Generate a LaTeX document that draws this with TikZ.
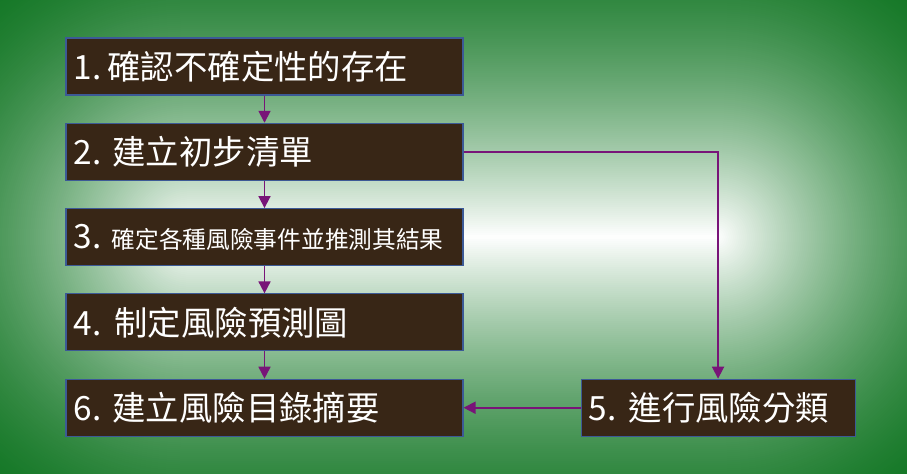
\documentclass[tikz,border=0pt]{standalone}
\usepackage{fontspec}
\newfontfamily\cjk{Noto Sans CJK TC}
\usetikzlibrary{positioning,arrows.meta}

\definecolor{bgdark}{RGB}{18,118,36}
\definecolor{boxfill}{RGB}{56,38,22}
\definecolor{boxedge}{RGB}{60,90,150}
\definecolor{flowline}{RGB}{120,20,120}

\begin{document}
\begin{tikzpicture}[
    stage/.style={rectangle,draw=boxedge,line width=0.6pt,fill=boxfill,text=white,inner xsep=1.55mm,inner ysep=0pt,minimum height=11.4mm,text width=76.3mm,align=left,font=\cjk\fontsize{19}{22}\selectfont},
    flow/.style={draw=flowline,line width=1pt,-{Triangle[width=2.4mm,length=2.4mm]}}
    ]
    \useasboundingbox (0,0) rectangle (18.14,9.46);

    % background glow
    \begin{scope}
      \clip (0,0) rectangle (18.14,9.46);
      \fill[bgdark] (0,0) rectangle (18.14,9.46);
      \foreach \r in {6.6,6.56,...,0.02} {
        \pgfmathsetmacro\w{100*(1-\r/6.6)^1.6}
        \colorlet{glowc}{white!\w!bgdark}
        \fill[glowc] (3.8,4.72) circle (\r);
        \fill[glowc] (14.34,4.72) circle (\r);
        \fill[glowc] (3.8,4.72-\r) rectangle (14.34,4.72+\r);
      }
    \end{scope}

    \node (s1) [stage] at (5.29,8.13) {1.\hspace{1.2mm}確認不確定性的存在};
    \node (s2) [stage,below=0.545 of s1] {2.\hspace{2.2mm}建立初步清單};
    \node (s3) [stage,below=0.545 of s2] {3.\hspace{2mm}{\fontsize{13.5}{16}\selectfont 確定各種風險事件並推測其結果}};
    \node (s4) [stage,below=0.545 of s3] {4.\hspace{2.6mm}制定風險預測圖};
    \node (s6) [stage,below=0.545 of s4] {6.\hspace{2.2mm}建立風險目錄摘要};

    \node (s5) [stage,text width=51.7mm,right=2.34 of s6] {5.\hspace{2.4mm}進行風險分類};

    \foreach \a/\b in {s1/s2,s2/s3,s3/s4,s4/s6}
      \draw[flow] (\a) -- (\b);

    \draw[flow] (s2.east) -| (s5.north);
    \draw[flow] (s5.west) -- (s6.east);

  \end{tikzpicture}
\end{document}
